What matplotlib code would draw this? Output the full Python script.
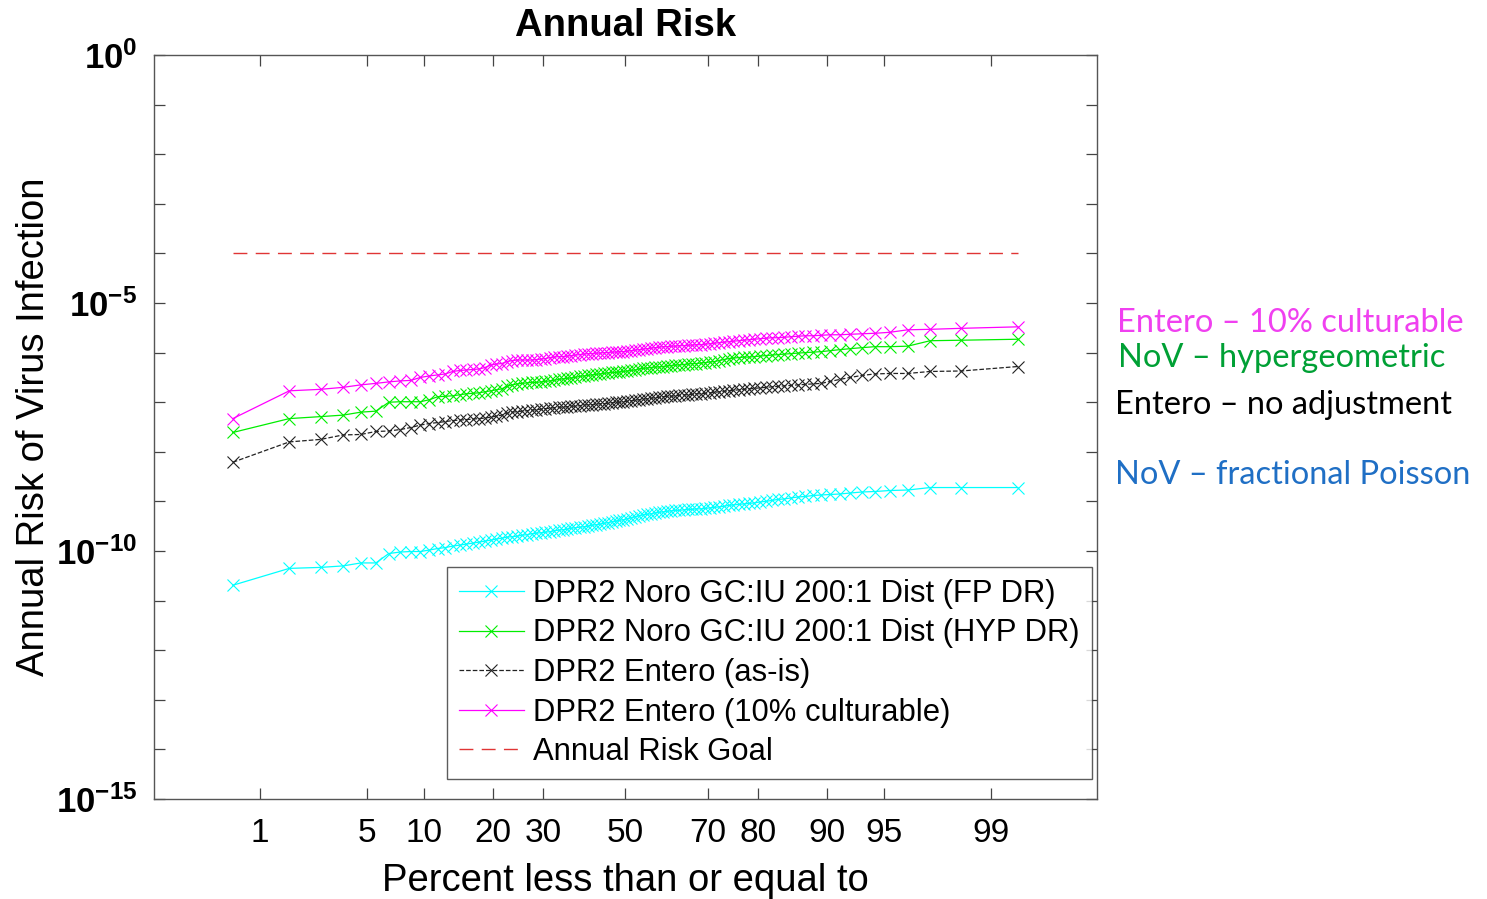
import matplotlib
matplotlib.use("Agg")
import matplotlib.pyplot as plt
import numpy as np
from statistics import NormalDist

plt.rcParams['font.family'] = ['Liberation Sans', 'DejaVu Sans']
plt.rcParams['mathtext.fontset'] = 'custom'
plt.rcParams['mathtext.rm'] = 'Liberation Sans'
plt.rcParams['mathtext.bf'] = 'Liberation Sans:bold'

# log10 of annual risk, sorted, 100 simulated values per scenario
fp_log = [
    -10.69, -10.35, -10.33, -10.30, -10.24, -10.24, -10.05, -10.02, -10.01, -10.01,
    -9.98, -9.95, -9.93, -9.90, -9.88, -9.86, -9.84, -9.82, -9.80, -9.78,
    -9.76, -9.74, -9.72, -9.71, -9.70, -9.68, -9.67, -9.65, -9.64, -9.63,
    -9.62, -9.61, -9.59, -9.58, -9.57, -9.56, -9.54, -9.53, -9.52, -9.51,
    -9.50, -9.48, -9.47, -9.46, -9.44, -9.43, -9.41, -9.40, -9.38, -9.37,
    -9.35, -9.33, -9.31, -9.29, -9.27, -9.26, -9.25, -9.23, -9.22, -9.21,
    -9.20, -9.19, -9.18, -9.18, -9.17, -9.16, -9.16, -9.15, -9.15, -9.14,
    -9.13, -9.12, -9.11, -9.10, -9.08, -9.07, -9.06, -9.05, -9.04, -9.03,
    -9.01, -9.00, -8.98, -8.96, -8.95, -8.93, -8.91, -8.90, -8.88, -8.87,
    -8.86, -8.85, -8.83, -8.81, -8.80, -8.78, -8.77, -8.72, -8.72, -8.72,
]
hyp_log = [
    -7.61, -7.33, -7.29, -7.26, -7.20, -7.18, -7.00, -6.99, -6.99, -6.99,
    -6.95, -6.89, -6.88, -6.87, -6.85, -6.83, -6.82, -6.81, -6.79, -6.77,
    -6.75, -6.73, -6.68, -6.65, -6.63, -6.62, -6.61, -6.60, -6.60, -6.59,
    -6.58, -6.57, -6.56, -6.54, -6.53, -6.52, -6.51, -6.50, -6.48, -6.47,
    -6.46, -6.45, -6.44, -6.43, -6.42, -6.41, -6.40, -6.40, -6.39, -6.38,
    -6.37, -6.36, -6.35, -6.33, -6.32, -6.31, -6.30, -6.29, -6.29, -6.28,
    -6.27, -6.26, -6.25, -6.25, -6.24, -6.23, -6.22, -6.22, -6.21, -6.20,
    -6.19, -6.18, -6.16, -6.14, -6.12, -6.11, -6.10, -6.09, -6.09, -6.08,
    -6.07, -6.06, -6.05, -6.04, -6.03, -6.02, -6.01, -6.00, -5.99, -5.98,
    -5.96, -5.94, -5.92, -5.90, -5.88, -5.88, -5.87, -5.76, -5.75, -5.73,
]
asis_log = [
    -8.21, -7.80, -7.75, -7.66, -7.65, -7.59, -7.58, -7.55, -7.51, -7.46,
    -7.43, -7.41, -7.39, -7.37, -7.36, -7.35, -7.34, -7.33, -7.32, -7.30,
    -7.28, -7.26, -7.22, -7.20, -7.19, -7.18, -7.17, -7.16, -7.15, -7.14,
    -7.13, -7.12, -7.11, -7.10, -7.10, -7.09, -7.08, -7.08, -7.07, -7.06,
    -7.05, -7.05, -7.04, -7.03, -7.03, -7.02, -7.01, -7.00, -7.00, -6.99,
    -6.98, -6.97, -6.96, -6.95, -6.94, -6.93, -6.92, -6.91, -6.90, -6.89,
    -6.88, -6.88, -6.87, -6.86, -6.85, -6.85, -6.84, -6.83, -6.83, -6.82,
    -6.81, -6.80, -6.79, -6.78, -6.77, -6.76, -6.75, -6.74, -6.73, -6.72,
    -6.71, -6.70, -6.69, -6.68, -6.67, -6.66, -6.65, -6.64, -6.63, -6.62,
    -6.58, -6.54, -6.50, -6.46, -6.43, -6.42, -6.42, -6.38, -6.37, -6.28,
]
ent10_log = [
    -7.33, -6.77, -6.74, -6.70, -6.65, -6.62, -6.59, -6.57, -6.56, -6.50,
    -6.47, -6.45, -6.43, -6.38, -6.36, -6.35, -6.34, -6.33, -6.30, -6.25,
    -6.23, -6.22, -6.18, -6.16, -6.15, -6.15, -6.15, -6.15, -6.14, -6.13,
    -6.12, -6.10, -6.09, -6.08, -6.08, -6.07, -6.06, -6.05, -6.04, -6.03,
    -6.02, -6.02, -6.01, -6.01, -6.00, -6.00, -5.99, -5.99, -5.98, -5.98,
    -5.97, -5.96, -5.95, -5.94, -5.93, -5.92, -5.91, -5.90, -5.89, -5.88,
    -5.88, -5.87, -5.87, -5.86, -5.86, -5.85, -5.85, -5.84, -5.84, -5.83,
    -5.82, -5.81, -5.80, -5.79, -5.78, -5.77, -5.76, -5.75, -5.74, -5.73,
    -5.72, -5.71, -5.70, -5.70, -5.69, -5.68, -5.67, -5.66, -5.66, -5.65,
    -5.64, -5.64, -5.63, -5.62, -5.61, -5.59, -5.54, -5.53, -5.51, -5.48,
]
risk_goal = 1e-4

labels = ['DPR2 Noro GC:IU 200:1 Dist (FP DR)',
          'DPR2 Noro GC:IU 200:1 Dist (HYP DR)',
          'DPR2 Entero (as-is)',
          'DPR2 Entero (10% culturable)']
pct_ticks = [1, 5, 10, 20, 30, 50, 70, 80, 90, 95, 99]

notes = ['Entero \u2013 10% culturable', 'NoV \u2013 hypergeometric',
         'Entero \u2013 no adjustment', 'NoV \u2013 fractional Poisson']

nd = NormalDist()


def prob_positions(n):
    # Blom plotting positions mapped onto the normal probability axis
    return np.array([nd.inv_cdf((i - 0.375) / (n + 0.25)) for i in range(1, n + 1)])


fig = plt.figure(figsize=(14.87, 8.99), dpi=100)
ax = fig.add_axes([0.1036, 0.1112, 0.6339, 0.8276])

styles = [('#00ffff', '-'), ('#00ee00', '-'), ('#222222', '--'), ('#ff00ff', '-')]
for data, lab, (col, ls) in zip([fp_log, hyp_log, asis_log, ent10_log], labels, styles):
    z = prob_positions(len(data))
    ax.plot(z, 10 ** np.array(data), color=col, ls=ls, lw=0.9, marker='x',
            markersize=8, markeredgewidth=0.8, label=lab)

z_all = prob_positions(len(fp_log))
ax.plot([z_all[0], z_all[-1]], [risk_goal, risk_goal], color='#e03535', lw=1.0,
        dashes=(10, 6), label='Annual Risk Goal')

ax.set_yscale('log')
ax.set_ylim(1e-15, 1e0)
ax.set_xlim(-3.0, 3.0)
ax.set_yticks([1e-15, 1e-10, 1e-5, 1e0])
ax.set_yticklabels([r'$\mathbf{10^{-15}}$', r'$\mathbf{10^{-10}}$',
                    r'$\mathbf{10^{-5}}$', r'$\mathbf{10^{0}}$'])
ax.set_yticks([10.0 ** k for k in range(-14, 0) if k % 5 != 0], minor=True)
ax.yaxis.set_minor_formatter(matplotlib.ticker.NullFormatter())
ax.set_xticks([nd.inv_cdf(p / 100) for p in pct_ticks])
ax.set_xticklabels([str(p) for p in pct_ticks])

ax.tick_params(which='both', direction='in', top=True, right=True,
               length=8, width=0.9, color='#444444', pad=12)
ax.tick_params(axis='x', labelsize=24, pad=14)
ax.tick_params(axis='y', labelsize=25, pad=12)
for s in ax.spines.values():
    s.set_color('#555555')
    s.set_linewidth(1.0)

ax.set_title('Annual Risk', fontsize=27.5, fontweight='bold', pad=14)
ax.set_xlabel('Percent less than or equal to', fontsize=27.5, labelpad=10)
ax.set_ylabel('Annual Risk of Virus Infection', fontsize=27.5, labelpad=3)

leg = ax.legend(loc='lower left', bbox_to_anchor=(0.311, 0.027), fontsize=22.3,
                frameon=True, fancybox=False, handlelength=2.1, borderpad=0.38,
                labelspacing=0.31, handletextpad=0.3, borderaxespad=0)
leg.get_frame().set_edgecolor('#333333')
leg.get_frame().set_linewidth(1.0)

note_colors = ['#f040f0', '#00a035', '#000000', '#1f6fc5']
note_pos = [(1117, 323), (1118, 358), (1115, 405), (1115, 475)]
for txt, col, (px, py) in zip(notes, note_colors, note_pos):
    fig.text(px / 1487, 1 - py / 899, txt, color=col, fontsize=23.5,
             family=['Lato', 'DejaVu Sans'], va='center', ha='left')

fig.savefig('out.png', dpi=100)
